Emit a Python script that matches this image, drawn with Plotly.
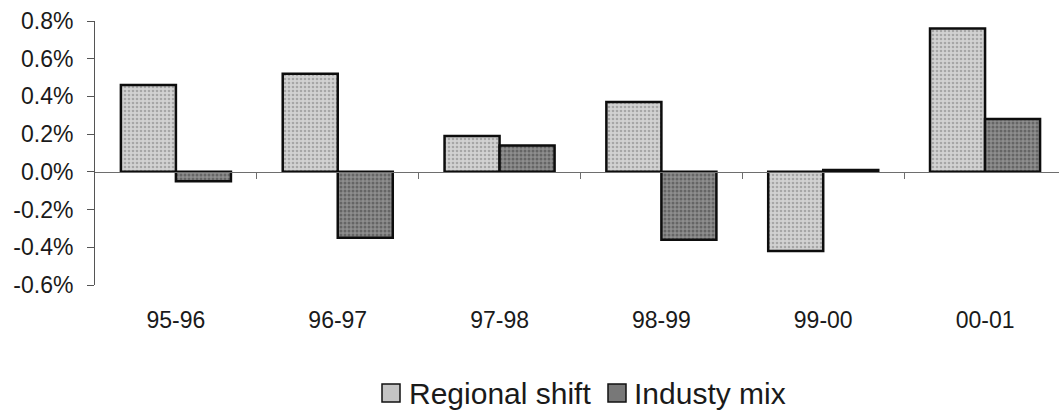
import plotly.graph_objects as go

# Annual shift-share components by period
periods = ["95-96", "96-97", "97-98", "98-99", "99-00", "00-01"]
regional_shift = [0.0046, 0.0052, 0.0019, 0.0037, -0.0042, 0.0076]
industry_mix = [-0.0005, -0.0035, 0.0014, -0.0036, 0.0001, 0.0028]

y_tick_values = [0.008, 0.006, 0.004, 0.002, 0.0, -0.002, -0.004, -0.006]
y_tick_labels = ["0.8%", "0.6%", "0.4%", "0.2%", "0.0%", "-0.2%", "-0.4%", "-0.6%"]
series_names = ["Regional shift", "Industy mix"]

font_family = "Liberation Sans, Arial, sans-serif"
y_min, y_max = -0.006, 0.008
W, H = 1059, 410
M_L, M_R, M_T, M_B = 95, 0, 21, 125
plot_w = W - M_L - M_R
plot_h = H - M_T - M_B


def px_x(px):
    return (px - M_L) / plot_w


def px_y(py):
    return (H - M_B - py) / plot_h


light_fill = "#c4c4c4"
dark_fill = "#787878"

fig = go.Figure()
fig.add_trace(go.Bar(
    name=series_names[0], x=periods, y=regional_shift, showlegend=False,
    marker=dict(color=light_fill, line=dict(color="#0d0d0d", width=2.5),
                pattern=dict(shape=".", fgcolor="#7a7a7a", bgcolor="#d2d2d2",
                             size=4, solidity=0.35)),
))
fig.add_trace(go.Bar(
    name=series_names[1], x=periods, y=industry_mix, showlegend=False,
    marker=dict(color=dark_fill, line=dict(color="#0d0d0d", width=2.5),
                pattern=dict(shape=".", fgcolor="#3c3c3c", bgcolor="#8e8e8e",
                             size=4, solidity=0.45)),
))

# Zero baseline with short ticks between periods (linear overlay axis)
fig.add_trace(go.Scatter(x=[-0.5, 5.457], y=[0, 0], xaxis="x2", yaxis="y",
                         mode="lines", line=dict(width=0), showlegend=False,
                         hoverinfo="skip"))

# Legend drawn as swatches + labels
legend_items = [
    (series_names[0], light_fill, 382, 407),
    (series_names[1], dark_fill, 608, 632),
]
shapes = []
annotations = []
for name, fill, sw_x, tx_x in legend_items:
    shapes.append(dict(
        type="rect", xref="paper", yref="paper",
        x0=px_x(sw_x), x1=px_x(sw_x + 18), y0=px_y(402), y1=px_y(384),
        fillcolor=fill, line=dict(color="#111111", width=1.5),
    ))
    annotations.append(dict(
        text=name, xref="paper", yref="paper", x=px_x(tx_x), y=px_y(393),
        xanchor="left", yanchor="middle", showarrow=False,
        font=dict(size=30, family=font_family, color="#1a1a1a"),
    ))

fig.update_layout(
    width=W, height=H,
    margin=dict(l=M_L, r=M_R, t=M_T, b=M_B),
    paper_bgcolor="white", plot_bgcolor="white",
    barmode="group", bargap=0.32, bargroupgap=0.0,
    font=dict(family=font_family, color="#1a1a1a"),
    xaxis=dict(
        type="category", range=[-0.5, 5.457], showgrid=False, zeroline=False,
        showline=False, ticks="", tickfont=dict(size=23), ticklabelstandoff=19,
    ),
    xaxis2=dict(
        type="linear", overlaying="x", anchor="free",
        position=(0 - y_min) / (y_max - y_min),
        range=[-0.5, 5.457], showgrid=False, zeroline=False,
        showline=True, linecolor="#6e6e6e", linewidth=1,
        tickmode="array", tickvals=[0.5, 1.5, 2.5, 3.5, 4.5],
        ticktext=[""] * 5, ticks="outside", ticklen=6, tickcolor="#6e6e6e",
        side="bottom",
    ),
    yaxis=dict(
        range=[y_min, y_max], showgrid=False, zeroline=False,
        showline=True, linecolor="#555555", linewidth=1,
        ticks="outside", ticklen=7, tickcolor="#555555",
        tickmode="array", tickvals=y_tick_values, ticktext=y_tick_labels,
        tickfont=dict(size=23), ticklabelstandoff=9,
    ),
    shapes=shapes,
    annotations=annotations,
    showlegend=False,
)

fig.write_html("out.html")
